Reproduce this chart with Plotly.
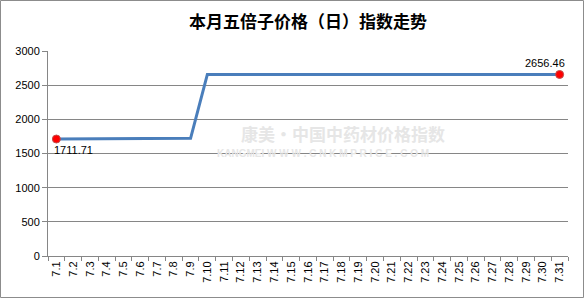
import plotly.graph_objects as go

title = "本月五倍子价格（日）指数走势"
dates = [f"7.{i}" for i in range(1, 32)]
values = [1711.71] * 8 + [1722.0] + [2656.46] * 22
y_ticks = [0, 500, 1000, 1500, 2000, 2500, 3000]

W, H = 584, 298
L, R, T, B = 48, 16, 51, 42
pw, ph = W - L - R, H - T - B

fig = go.Figure()
fig.add_trace(go.Scatter(
    x=dates, y=values, mode="lines",
    line=dict(color="#4a7ebb", width=3), hoverinfo="skip"))
ends_x = [dates[0], dates[-1]]
ends_y = [values[0], values[-1]]
fig.add_trace(go.Scatter(
    x=ends_x, y=ends_y, mode="markers",
    marker=dict(color="#ff0000", size=8, line=dict(color="#c0504d", width=1)),
    hoverinfo="skip"))

fig.add_annotation(x=0, y=ends_y[0], text=f"{ends_y[0]:.2f}", showarrow=False,
                   xanchor="left", yanchor="top", xshift=-4, yshift=-3,
                   font=dict(family="Liberation Sans", size=11, color="#000"))
fig.add_annotation(x=len(dates) - 1, y=ends_y[1], text=f"{ends_y[1]:.2f}", showarrow=False,
                   xanchor="right", yanchor="bottom", xshift=7, yshift=3,
                   font=dict(family="Liberation Sans", size=11, color="#000"))

# watermark
fig.add_annotation(xref="paper", yref="paper", x=0.567, y=0.60, text="<b>康美·中国中药材价格指数</b>",
                   showarrow=False, font=dict(family="Noto Sans CJK SC", size=17, color="#e6e6e6"))
fig.add_annotation(xref="paper", yref="paper", x=0.529, y=0.50, text="<b>KANGMEI W W W . C N K M P R I C E . C O M</b>",
                   showarrow=False, font=dict(family="Liberation Sans", size=10, color="#e6e6e6"))

# outer border
fig.add_shape(type="rect", xref="paper", yref="paper",
              x0=(0.5 - L) / pw, x1=(W - 0.5 - L) / pw,
              y0=-(B - 0.5) / ph, y1=(ph + T - 0.5) / ph,
              line=dict(color="#8c8c8c", width=1), layer="below")

fig.update_layout(
    width=W, height=H, margin=dict(l=L, r=R, t=T, b=B),
    paper_bgcolor="white", plot_bgcolor="white", showlegend=False,
    title=dict(text="<b>" + title + "</b>", x=0.5, xref="paper", xanchor="center", y=1 - 22 / H, yanchor="middle",
               font=dict(family="Noto Sans CJK SC", size=17, color="#000")),
    font=dict(family="Liberation Sans", size=11, color="#000"),
)
fig.update_xaxes(
    type="category", tickangle=-90, showgrid=False,
    showline=True, linecolor="#868686", linewidth=1,
    ticks="outside", ticklen=4, tickcolor="#868686", tickson="boundaries",
    tickfont=dict(family="Liberation Sans", size=11), range=[-0.5, len(dates) - 0.5])
fig.update_yaxes(
    range=[0, 3000], tickvals=y_ticks, showgrid=True, gridcolor="#868686", gridwidth=1,
    showline=True, linecolor="#868686", linewidth=1, zeroline=False,
    ticks="outside", ticklen=5, tickcolor="#868686",
    tickfont=dict(family="Liberation Sans", size=11))

fig.write_html("out.html")
